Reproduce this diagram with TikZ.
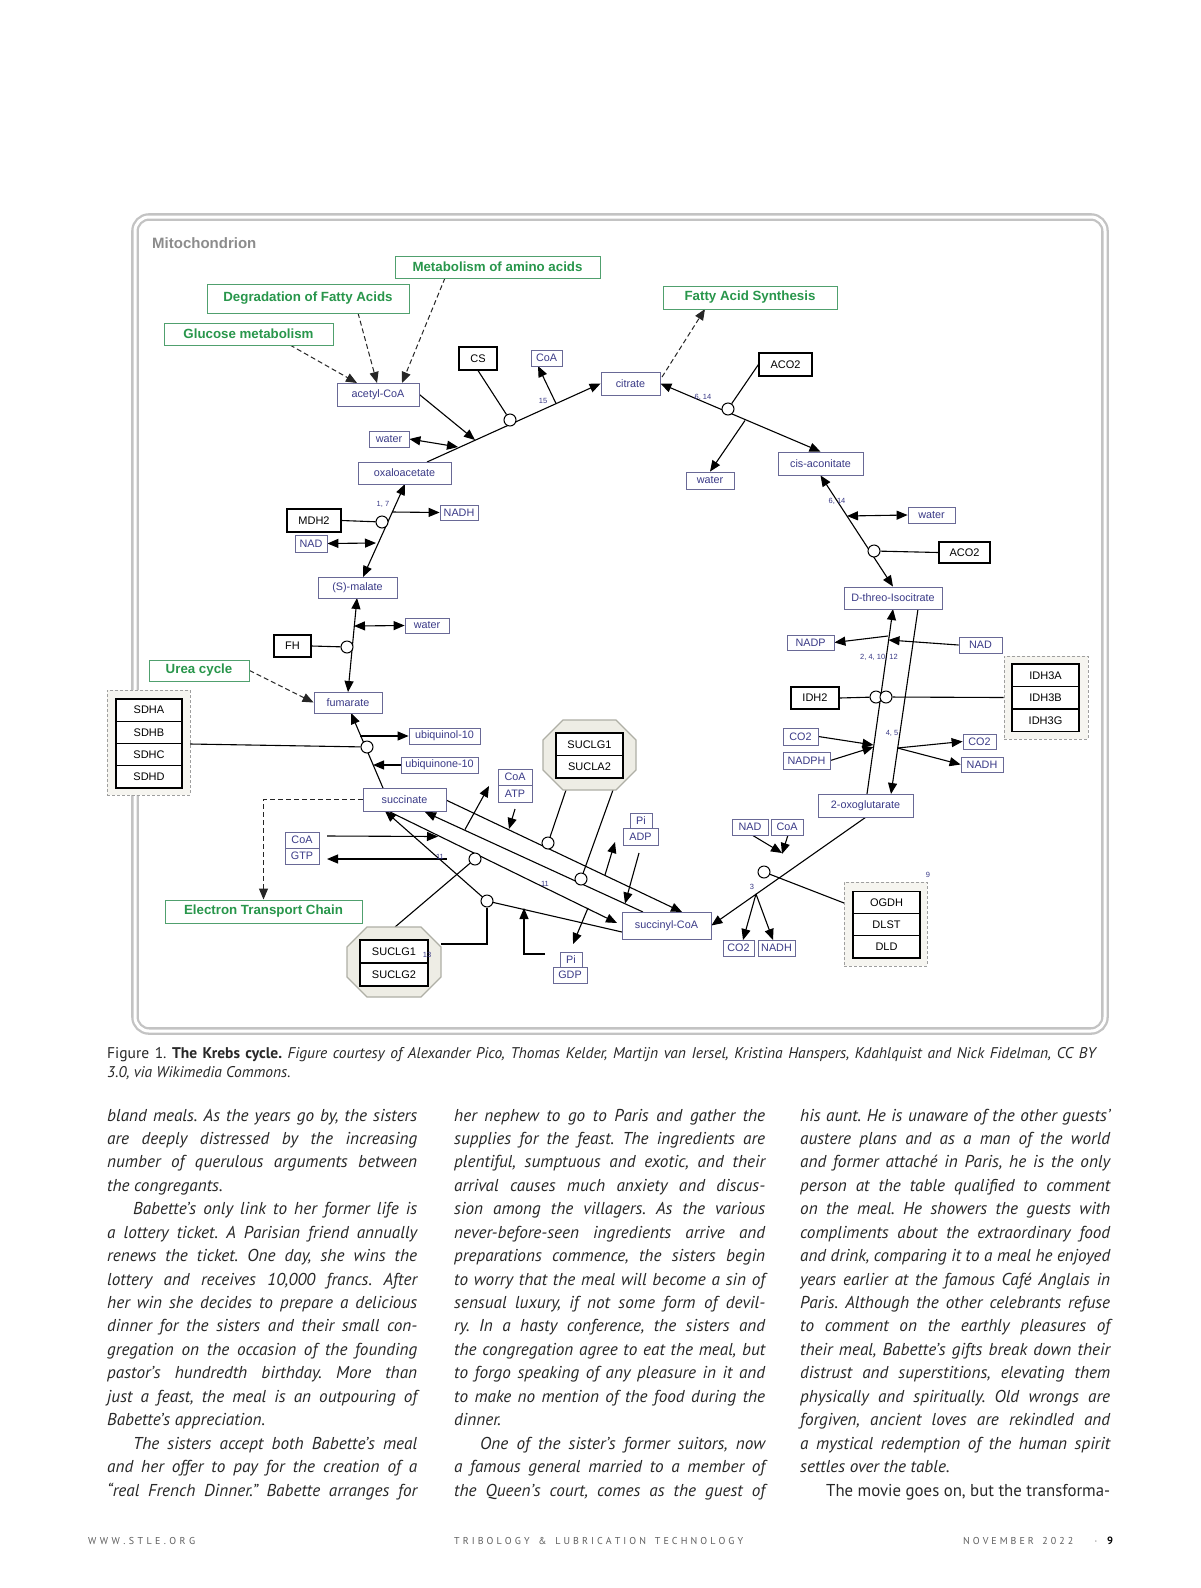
\documentclass[tikz,border=0pt]{standalone}
\usepackage{fontspec}
\setmainfont{PT Sans}
\newfontfamily\dfont{Liberation Sans}
\usepackage{graphicx}
\usetikzlibrary{arrows.meta,calc}
\definecolor{metab}{RGB}{58,58,135}
\definecolor{metline}{RGB}{105,105,150}
\definecolor{pwtext}{RGB}{40,150,75}
\definecolor{pwline}{RGB}{80,160,110}
\definecolor{cplxfill}{RGB}{246,245,240}
\definecolor{octfill}{RGB}{238,237,229}
\definecolor{octline}{RGB}{175,175,165}
\definecolor{framec}{RGB}{195,195,195}
\definecolor{bodyc}{RGB}{40,40,40}
\definecolor{footc}{RGB}{95,95,95}
\newcommand\mfont{\dfont\fontsize{10.8}{11}\selectfont}
\newcommand\gfont{\dfont\fontsize{11}{12}\selectfont}
\newcommand\pfont{\dfont\bfseries\fontsize{13.3}{14}\selectfont}
\newcommand\nfont{\dfont\fontsize{7.5}{8}\selectfont}
\newsavebox\lbox
\newcommand\jw[2]{\sbox\lbox{#2}\ifdim\wd\lbox>#1\relax\resizebox{#1}{\height}{\usebox\lbox}\else\makebox[#1][s]{#2}\fi}
\makeatletter
\def\spreadout#1{\spr@#1\@nil}
\def\spr@#1{\ifx#1\@nil\unskip\else#1\hskip0pt plus1fil\relax\expandafter\spr@\fi}
\makeatother
\frenchspacing
\pgfdeclarelayer{back}
\pgfdeclarelayer{bg}
\pgfsetlayers{back,bg,main}
\tikzset{
 met/.style 2 args={draw=metline, line width=0.8pt, fill=white, text=metab, font=\mfont, inner sep=0pt, minimum width=#1pt, minimum height=#2pt},
 gene/.style 2 args={draw=black, line width=1.1pt, fill=white, text=black, font=\gfont, inner sep=0pt, minimum width=#1pt, minimum height=#2pt},
 pwbox/.style 2 args={draw=pwline, line width=1pt, fill=white, text=pwtext, font=\pfont, inner sep=0pt, minimum width=#1pt, minimum height=#2pt},
 cplx/.style 2 args={draw=gray!75, dash pattern=on 3pt off 2pt, line width=0.9pt, fill=cplxfill, inner sep=0pt, minimum width=#1pt, minimum height=#2pt},
 circ/.style={circle, draw=black, line width=1pt, fill=white, minimum size=12pt, inner sep=0pt},
 num/.style={font=\nfont, text=metab, inner sep=0pt},
 ln/.style={draw=black, line width=1.1pt},
 arr/.style={ln, -{Triangle[length=11pt,width=9pt]}},
 darr/.style={ln, {Triangle[length=11pt,width=9pt]}-{Triangle[length=11pt,width=9pt]}},
 dsh/.style={draw=black!85, line width=1pt, dash pattern=on 5pt off 3pt, -{Triangle[length=11pt,width=9pt]}},
 octst/.style={draw=octline, line width=1.2pt, fill=octfill},
 body/.style={font=\fontsize{17.2}{20}\selectfont\itshape, text=bodyc, inner sep=0pt, anchor=base west},
 bodyu/.style={font=\fontsize{17.2}{20}\selectfont, text=bodyc, inner sep=0pt, anchor=base west},
 foot/.style={font=\fontsize{10}{12}\selectfont, text=footc, inner sep=0pt, anchor=base west}
}
\newcommand\octa[5]{\draw[octst] ({#1+#5},#2) -- ({#3-#5},#2) -- (#3,{#2+#5}) -- (#3,{#4-#5}) -- ({#3-#5},#4) -- ({#1+#5},#4) -- (#1,{#4-#5}) -- (#1,{#2+#5}) -- cycle;}
\newcommand\bj[5]{\node[body] (#1) at ({#2},{1121+23.44*#3}) {\jw{#4pt}{#5}};}
\newcommand\bn[4]{\node[body] (#1) at ({#2},{1121+23.44*#3}) {#4};}
\begin{document}
\begin{tikzpicture}[x=1pt,y=-1pt]
\useasboundingbox (0,0) rectangle (1200,1588);
\begin{pgfonlayer}{back}
\fill[white] (0,0) rectangle (1200,1588);
\end{pgfonlayer}
% frame
\draw[framec, line width=2.3pt, double=white, double distance=3pt, rounded corners=14pt] (135,217) rectangle (1105,1031);
\node[anchor=west, font=\dfont\bfseries\fontsize{15}{16}\selectfont, text=black!45, inner sep=0pt] (mito) at (152,243) {Mitochondrion};
% pathways
\node[pwbox={205}{22}] (maa) at (497.5,267) {Metabolism of amino acids};
\node[pwbox={202}{29}] (dfa) at (308,298.5) {Degradation of Fatty Acids};
\node[pwbox={169}{22}] (gm) at (248.5,334) {Glucose metabolism};
\node[pwbox={174}{23}] (fas) at (750,297.5) {Fatty Acid Synthesis};
\node[pwbox={100}{21}] (urea) at (199,670.5) {Urea cycle};
\node[pwbox={197}{23}] (etc) at (263.5,911.5) {Electron Transport Chain};
% metabolites
\node[met={82}{23}] (acetyl) at (378,394.5) {acetyl-CoA};
\node[met={40}{16}] (watera) at (389,439) {water};
\node[met={93}{22}] (oxalo) at (404.5,473) {oxaloacetate};
\node[met={31}{16}] (coaa) at (546.5,358) {CoA};
\node[met={59}{23}] (citrate) at (630.5,383.5) {citrate};
\node[met={48}{17}] (waterb) at (710,480.5) {water};
\node[met={85}{23}] (cisacon) at (820.5,463.5) {cis-aconitate};
\node[met={47}{16}] (waterc) at (931.5,515) {water};
\node[met={98}{22}] (isocit) at (893,598) {D-threo-Isocitrate};
\node[met={47}{15}] (nadp) at (810.5,642.5) {NADP};
\node[met={43}{16}] (nadr) at (980.5,645) {NAD};
\node[met={35}{17}] (co2l) at (800.5,736.5) {CO2};
\node[met={47}{17}] (nadph) at (806.5,760.5) {NADPH};
\node[met={33}{15}] (co2r) at (979.5,741.5) {CO2};
\node[met={42}{15}] (nadhr) at (982,764.5) {NADH};
\node[met={95}{23}] (oxoglu) at (865.5,805.5) {2-oxoglutarate};
\node[met={36}{16}] (nadb) at (750,827) {NAD};
\node[met={32}{16}] (coab) at (787,827) {CoA};
\node[met={31}{16}] (co2b) at (738.5,948) {CO2};
\node[met={37}{16}] (nadhb) at (776.5,948) {NADH};
\node[met={89}{27}] (succoa) at (666.5,925.5) {succinyl-CoA};
\node[met={22}{15}] (pia) at (571,959.5) {Pi};
\node[met={34}{16}] (gdpa) at (570,975) {GDP};
\node[met={22}{15}] (pib) at (641,820.5) {Pi};
\node[met={35}{17}] (adpb) at (640.5,836.5) {ADP};
\node[met={34}{16}] (coac) at (515,777) {CoA};
\node[met={34}{17}] (atpc) at (515,793.5) {ATP};
\node[met={34}{16}] (coad) at (302,840) {CoA};
\node[met={34}{16}] (gtpd) at (302,856) {GTP};
\node[met={83}{23}] (succ) at (404.5,799.5) {succinate};
\node[met={71}{16}] (ubqol) at (444.5,736) {ubiquinol-10};
\node[met={77}{16}] (ubqone) at (439.5,765) {ubiquinone-10};
\node[met={68}{21}] (fum) at (348,702.5) {fumarate};
\node[met={44}{15}] (waterd) at (427,625.5) {water};
\node[met={79}{21}] (malate) at (357.5,587.5) {(S)-malate};
\node[met={32}{17}] (nadl) at (311,543.5) {NAD};
\node[met={38}{15}] (nadhl) at (459,512.5) {NADH};
% genes
\node[gene={38}{23}] (cs) at (478,358.5) {CS};
\node[gene={53}{23}] (aco2a) at (785.5,364.5) {ACO2};
\node[gene={51}{21}] (aco2b) at (964.5,552.5) {ACO2};
\node[gene={54}{23}] (mdh2) at (314,520.5) {MDH2};
\node[gene={37}{22}] (fh) at (292.5,646) {FH};
\node[gene={48}{22}] (idh2) at (815,698) {IDH2};
% complexes
\node[cplx={84}{83}] (idh3) at (1046,697.5) {};
\node[gene={67}{22.5}] (idh3a) at (1045.5,675.25) {IDH3A};
\node[gene={67}{22.5}] (idh3b) at (1045.5,697.75) {IDH3B};
\node[gene={67}{22.5}] (idh3g) at (1045.5,720.25) {IDH3G};
\node[cplx={83}{105}] (sdh) at (148.5,742.5) {};
\node[gene={66}{22.25}] (sdha) at (149,710.1) {SDHA};
\node[gene={66}{22.25}] (sdhb) at (149,732.4) {SDHB};
\node[gene={66}{22.25}] (sdhc) at (149,754.6) {SDHC};
\node[gene={66}{22.25}] (sdhd) at (149,776.9) {SDHD};
\node[cplx={83}{84}] (ogdhc) at (885.5,924) {};
\node[gene={67}{22.3}] (ogdh) at (886.5,902.2) {OGDH};
\node[gene={67}{22.3}] (dlst) at (886.5,924.5) {DLST};
\node[gene={67}{22.3}] (dld) at (886.5,946.8) {DLD};
\octa{543}{720}{636}{790}{20}
\node[gene={67}{22.5}] (suclga) at (589.5,744.25) {SUCLG1};
\node[gene={67}{22.5}] (sucla2) at (589.5,766.75) {SUCLA2};
\octa{347}{927}{441}{997}{20}
\node[gene={68}{23}] (suclgb) at (394,951.5) {SUCLG1};
\node[gene={68}{23}] (suclg2) at (394,974.5) {SUCLG2};
% catalysis circles
\node[circ] (c15) at (510,420) {};
\node[circ] (caco1) at (728,409) {};
\node[circ] (caco2) at (874,551) {};
\node[circ] (cmdh) at (382,522) {};
\node[circ] (cfh) at (347,647) {};
\node[circ] (csdh) at (367,747) {};
\node[circ] (cidh2) at (876,697) {};
\node[circ] (cidh3) at (886,697) {};
\node[circ] (cogdh) at (764,872) {};
\node[circ] (csa1) at (548,843) {};
\node[circ] (csa2) at (581,879) {};
\node[circ] (csg1) at (475,859) {};
\node[circ] (csg2) at (487,901) {};
% numbers
\node[num] (n15) at (543,401) {15};
\node[num] (n614a) at (703,397) {6, 14};
\node[num] (n614b) at (837,501) {6, 14};
\node[num] (n2410) at (879,657) {2, 4, 10, 12};
\node[num] (n45) at (892,733) {4, 5};
\node[num] (n3) at (752,887) {3};
\node[num] (n9) at (928,875) {9};
\node[num] (n17) at (383,504) {1, 7};
\node[num] (n11a) at (440,857) {11};
\node[num] (n11b) at (545,884) {11};
\node[num] (n13) at (427,955) {13};
% junction coordinates
\coordinate (gmS) at (290,345);
\coordinate (acA) at (357,383);
\coordinate (dfaS) at (358,313);
\coordinate (acB) at (377,383);
\coordinate (maaS) at (445,278);
\coordinate (acC) at (402,383);
\coordinate (citS) at (662,377);
\coordinate (fasE) at (705,309);
\coordinate (r15s) at (427,462);
\coordinate (j15a) at (475,440);
\coordinate (j15w) at (458,447);
\coordinate (j15c) at (556,403.5);
\coordinate (coaE) at (538,366);
\coordinate (j6w) at (745,420.5);
\coordinate (j6b) at (847,516);
\coordinate (idhL1) at (867,794);
\coordinate (idhL2) at (893,609);
\coordinate (idhR1) at (918,609);
\coordinate (idhR2) at (891,794);
\coordinate (jnadp) at (888,636);
\coordinate (jnad) at (888.5,640);
\coordinate (jco2l) at (873.5,745);
\coordinate (jnadph) at (873.5,747);
\coordinate (jco2r) at (897.5,748);
\coordinate (jogdh) at (844,903);
\coordinate (nadbS) at (752,835);
\coordinate (coabS) at (788,835);
\coordinate (jnadb) at (782,853);
\coordinate (jcoab) at (782,854);
\coordinate (j3) at (756,894);
\coordinate (co2bE) at (743,940);
\coordinate (nadhbE) at (773,940);
\coordinate (mdhA) at (363,577);
\coordinate (mdhB) at (405,484);
\coordinate (jnadhl) at (392,512);
\coordinate (jnadl) at (376,543);
\coordinate (fmA) at (348,692);
\coordinate (fmB) at (357,598);
\coordinate (jwd) at (354,626);
\coordinate (sfA) at (383,788);
\coordinate (sfB) at (351,713);
\coordinate (sdhE) at (190,744);
\coordinate (jubqol) at (360,736);
\coordinate (jubqone) at (373,765);
\coordinate (l1a) at (446,800);
\coordinate (l1b) at (682,912);
\coordinate (atpS) at (515,809);
\coordinate (jatp) at (509,829);
\coordinate (octAl) at (566,790);
\coordinate (octAr) at (613,790);
\coordinate (jadp) at (605,875);
\coordinate (adpE) at (615,842);
\coordinate (l2a) at (643,912);
\coordinate (l2b) at (425,812);
\coordinate (jatpo) at (465,829.5);
\coordinate (atpE) at (489,786);
\coordinate (adpS) at (639,853);
\coordinate (jadpi) at (625,903.5);
\coordinate (l3a) at (388,811);
\coordinate (l3b) at (617,923);
\coordinate (coadS) at (327,836);
\coordinate (jcoad) at (438,836.5);
\coordinate (octBt) at (395,927);
\coordinate (jgdp) at (588,908);
\coordinate (gdpE) at (573,944);
\coordinate (l4a) at (622,932);
\coordinate (l4b) at (385,811);
\coordinate (jgtp) at (447,859);
\coordinate (gtpE) at (327,859);
\coordinate (octBr) at (441,944);
\coordinate (gdpS) at (545,954);
\coordinate (jgdpi) at (524,908);
\begin{pgfonlayer}{bg}
% dashed pathway links
\draw[dsh] (gmS) -- (acA);
\draw[dsh] (dfaS) -- (acB);
\draw[dsh] (maaS) -- (acC);
\draw[dsh] (citS) -- (fasE);
\draw[dsh] (urea.east) -- (fum.west);
\draw[dsh] (succ.west) -| (etc.north);
% reaction 15
\draw[arr] (r15s) -- (citrate.west);
\draw[arr] (acetyl.east) -- (j15a);
\draw[darr] (watera.east) -- (j15w);
\draw[ln] (cs.south) -- (c15);
\draw[arr] (j15c) -- (coaE);
% 6,14 a
\draw[darr] (citrate.east) -- (cisacon.north);
\draw[ln] (caco1) -- (aco2a.west);
\draw[arr] (j6w) -- (waterb.north);
% 6,14 b
\draw[darr] (cisacon.south) -- (isocit.north);
\draw[darr] (j6b) -- (waterc.west);
\draw[ln] (caco2) -- (aco2b.west);
% IDH
\draw[arr] (idhL1) -- (idhL2);
\draw[arr] (idhR1) -- (idhR2);
\draw[arr] (jnadp) -- (nadp.east);
\draw[arr] (nadr.west) -- (jnad);
\draw[ln] (idh2.east) -- (cidh2);
\draw[ln] (cidh3) -- (idh3.west);
\draw[arr] (co2l.east) -- (jco2l);
\draw[arr] (nadph.east) -- (jnadph);
\draw[arr] (jco2r) -- (co2r.west);
\draw[arr] (jco2r) -- (nadhr.west);
% reaction 3
\draw[arr] (oxoglu.south) -- (succoa.east);
\draw[ln] (cogdh) -- (jogdh);
\draw[arr] (nadbS) -- (jnadb);
\draw[arr] (coabS) -- (jcoab);
\draw[arr] (j3) -- (co2bE);
\draw[arr] (j3) -- (nadhbE);
% MDH
\draw[darr] (mdhA) -- (mdhB);
\draw[ln] (mdh2.east) -- (cmdh);
\draw[arr] (jnadhl) -- (nadhl.west);
\draw[darr] (nadl.east) -- (jnadl);
% FH
\draw[darr] (fmA) -- (fmB);
\draw[ln] (fh.east) -- (cfh);
\draw[darr] (jwd) -- (waterd.west);
% SDH
\draw[arr] (sfA) -- (sfB);
\draw[ln] (sdhE) -- (csdh);
\draw[arr] (jubqol) -- (ubqol.west);
\draw[arr] (ubqone.west) -- (jubqone);
% succinate <-> succinyl-CoA
\draw[arr] (l1a) -- (l1b);
\draw[arr] (atpS) -- (jatp);
\draw[ln] (csa1) -- (octAl);
\draw[arr] (jadp) -- (adpE);
\draw[arr] (l2a) -- (l2b);
\draw[arr] (jatpo) -- (atpE);
\draw[ln] (csa2) -- (octAr);
\draw[arr] (adpS) -- (jadpi);
\draw[arr] (l3a) -- (l3b);
\draw[arr] (coadS) -- (jcoad);
\draw[ln] (csg1) -- (octBt);
\draw[arr] (jgdp) -- (gdpE);
\draw[arr] (l4a) -- (csg2.center) -- (l4b);
\draw[arr] (jgtp) -- (gtpE);
\draw[ln] (csg2) |- (octBr);
\draw[arr] (gdpS) -| (jgdpi);
\end{pgfonlayer}
% caption
\node[font=\fontsize{15.5}{18}\selectfont, text=bodyc, inner sep=0pt, anchor=base west] (cap1) at (107,1058) {\jw{990pt}{Figure 1. \textbf{The Krebs cycle.} \textit{Figure courtesy of Alexander Pico, Thomas Kelder, Martijn van Iersel, Kristina Hanspers, Kdahlquist and Nick Fidelman, CC BY}}};
\node[font=\fontsize{15.5}{18}\selectfont\itshape, text=bodyc, inner sep=0pt, anchor=base west] (cap2) at (107,1077) {3.0, via Wikimedia Commons.};
% column 1
\bj{a0}{107}{0}{310}{bland meals. As the years go by, the sisters}
\bj{a1}{107}{1}{310}{are deeply distressed by the increasing}
\bj{a2}{107}{2}{310}{number of querulous arguments between}
\bn{a3}{107}{3}{the congregants.}
\bj{a4}{133}{4}{284}{Babette’s only link to her former life is}
\bj{a5}{107}{5}{310}{a lottery ticket. A Parisian friend annually}
\bj{a6}{107}{6}{310}{renews the ticket. One day, she wins the}
\bj{a7}{107}{7}{310}{lottery and receives 10,000 francs. After}
\bj{a8}{107}{8}{310}{her win she decides to prepare a delicious}
\bj{a9}{107}{9}{310}{dinner for the sisters and their small con-}
\bj{a10}{107}{10}{310}{gregation on the occasion of the founding}
\bj{a11}{107}{11}{310}{pastor’s hundredth birthday. More than}
\bj{a12}{107}{12}{310}{just a feast, the meal is an outpouring of}
\bn{a13}{107}{13}{Babette’s appreciation.}
\bj{a14}{133}{14}{284}{The sisters accept both Babette’s meal}
\bj{a15}{107}{15}{310}{and her offer to pay for the creation of a}
\bj{a16}{107}{16}{310}{“real French Dinner.” Babette arranges for}
% column 2
\bj{b0}{454}{0}{311}{her nephew to go to Paris and gather the}
\bj{b1}{454}{1}{311}{supplies for the feast. The ingredients are}
\bj{b2}{454}{2}{311}{plentiful, sumptuous and exotic, and their}
\bj{b3}{454}{3}{311}{arrival causes much anxiety and discus-}
\bj{b4}{454}{4}{311}{sion among the villagers. As the various}
\bj{b5}{454}{5}{311}{never-before-seen ingredients arrive and}
\bj{b6}{454}{6}{311}{preparations commence, the sisters begin}
\bj{b7}{454}{7}{311}{to worry that the meal will become a sin of}
\bj{b8}{454}{8}{311}{sensual luxury, if not some form of devil-}
\bj{b9}{454}{9}{311}{ry. In a hasty conference, the sisters and}
\bj{b10}{454}{10}{311}{the congregation agree to eat the meal, but}
\bj{b11}{454}{11}{311}{to forgo speaking of any pleasure in it and}
\bj{b12}{454}{12}{311}{to make no mention of the food during the}
\bn{b13}{454}{13}{dinner.}
\bj{b14}{480}{14}{285}{One of the sister’s former suitors, now}
\bj{b15}{454}{15}{311}{a famous general married to a member of}
\bj{b16}{454}{16}{311}{the Queen’s court, comes as the guest of}
% column 3
\bj{c0}{800}{0}{310}{his aunt. He is unaware of the other guests’}
\bj{c1}{800}{1}{310}{austere plans and as a man of the world}
\bj{c2}{800}{2}{310}{and former attaché in Paris, he is the only}
\bj{c3}{800}{3}{310}{person at the table qualified to comment}
\bj{c4}{800}{4}{310}{on the meal. He showers the guests with}
\bj{c5}{800}{5}{310}{compliments about the extraordinary food}
\bj{c6}{800}{6}{310}{and drink, comparing it to a meal he enjoyed}
\bj{c7}{800}{7}{310}{years earlier at the famous Café Anglais in}
\bj{c8}{800}{8}{310}{Paris. Although the other celebrants refuse}
\bj{c9}{800}{9}{310}{to comment on the earthly pleasures of}
\bj{c10}{800}{10}{310}{their meal, Babette’s gifts break down their}
\bj{c11}{800}{11}{310}{distrust and superstitions, elevating them}
\bj{c12}{800}{12}{310}{physically and spiritually. Old wrongs are}
\bj{c13}{800}{13}{310}{forgiven, ancient loves are rekindled and}
\bj{c14}{800}{14}{310}{a mystical redemption of the human spirit}
\bn{c15}{800}{15}{settles over the table.}
\node[bodyu] (c16) at (826,{1121+23.44*16}) {\jw{284pt}{The movie goes on, but the transforma-}};
% footer
\node[foot] (f1) at (88,1544) {\makebox[107pt][s]{\spreadout{WWW.STLE.ORG}}};
\node[foot] (f2) at (454,1544) {\makebox[289pt][s]{\spreadout{TRIBOLOGY~\&~LUBRICATION~TECHNOLOGY}}};
\node[foot] (f3) at (963,1544) {\makebox[110pt][s]{\spreadout{NOVEMBER~2022}}};
\node[foot, anchor=base] (f4) at (1096,1544) {·};
\node[foot, anchor=base, text=black, font=\fontsize{10.5}{12}\selectfont\bfseries] (f5) at (1110,1544) {9};
\end{tikzpicture}
\end{document}
